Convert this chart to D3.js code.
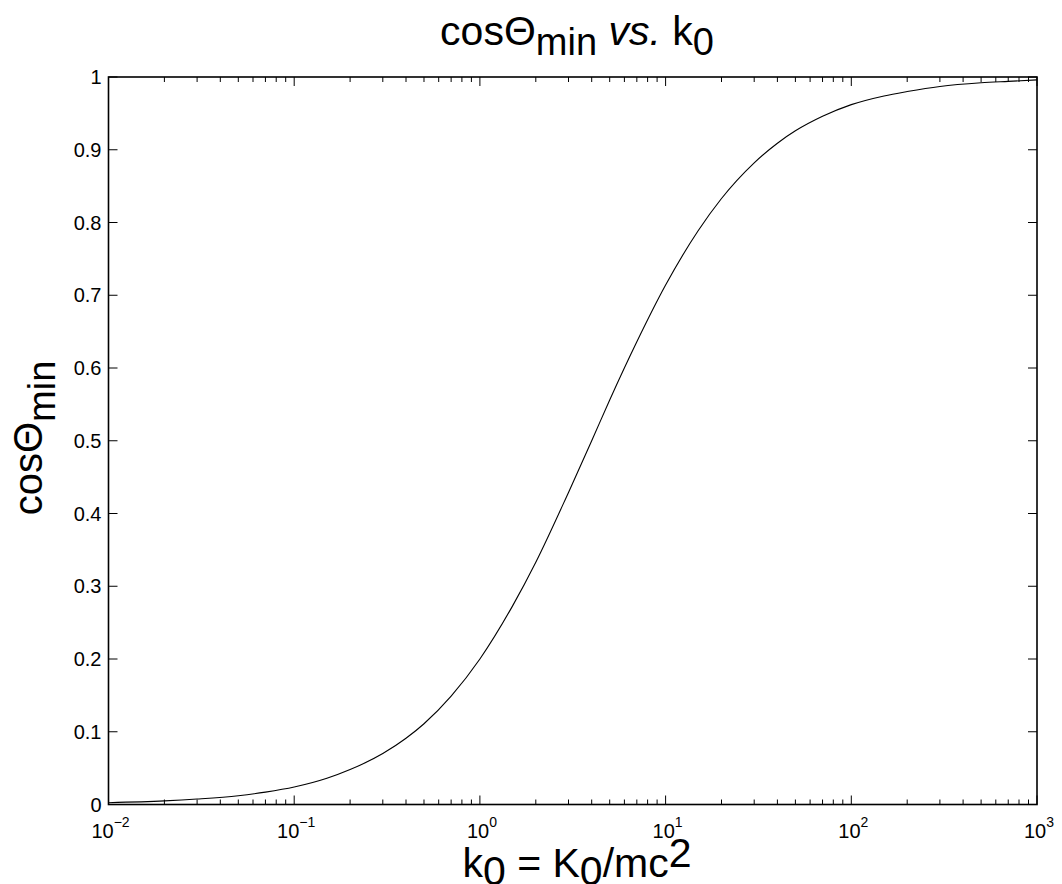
<!DOCTYPE html>
<html><head><meta charset="utf-8">
<script src="https://cdn.jsdelivr.net/npm/d3@7"></script>
<style>
html,body{margin:0;padding:0;background:#fff;}
text{font-family:"Liberation Sans",Arial,Helvetica,sans-serif;fill:#000;}
</style></head>
<body>
<svg id="chart" width="1062" height="884"></svg>
<script>
// Data
const k0 = [0.01,0.02,0.03,0.05,0.07,0.1,0.15,0.2,0.3,0.4,0.5,0.7,1,1.5,2,3,4,5,7,10,15,20,30,40,50,70,100,150,200,300,500,700,1000];
const cosThetaMin = [0.0025,0.005,0.0075,0.012,0.017,0.024,0.036,0.048,0.070,0.091,0.111,0.149,0.200,0.273,0.333,0.429,0.500,0.556,0.636,0.714,0.789,0.833,0.882,0.909,0.926,0.946,0.962,0.974,0.980,0.987,0.992,0.994,0.996];
const yTicks = [0,0.1,0.2,0.3,0.4,0.5,0.6,0.7,0.8,0.9,1];
const yTickLabels = ["0","0.1","0.2","0.3","0.4","0.5","0.6","0.7","0.8","0.9","1"];
const xDecades = [-2,-1,0,1,2,3];

const svg = d3.select("#chart");
const L = 108.5, R = 1037, T = 77, B = 804.5;
const x = d3.scaleLog().domain([0.01,1000]).range([L,R]);
const y = d3.scaleLinear().domain([0,1]).range([B,T]);

const majorLen = 9, minorLen = 5;
const g = svg.append("g");

// minor ticks (x)
const minors = [];
for (let d = -2; d < 3; d++) for (let m = 2; m <= 9; m++) minors.push(m*Math.pow(10,d));
const majors = xDecades.map(e => Math.pow(10,e));

g.selectAll(".xminB").data(minors).enter().append("line")
  .attr("x1",d=>x(d)).attr("x2",d=>x(d)).attr("y1",B).attr("y2",B-minorLen)
  .attr("stroke","#000").attr("stroke-width",1);
g.selectAll(".xminT").data(minors).enter().append("line")
  .attr("x1",d=>x(d)).attr("x2",d=>x(d)).attr("y1",T).attr("y2",T+minorLen)
  .attr("stroke","#000").attr("stroke-width",1);
g.selectAll(".xmajB").data(majors).enter().append("line")
  .attr("x1",d=>x(d)).attr("x2",d=>x(d)).attr("y1",B).attr("y2",B-majorLen)
  .attr("stroke","#000").attr("stroke-width",1);
g.selectAll(".xmajT").data(majors).enter().append("line")
  .attr("x1",d=>x(d)).attr("x2",d=>x(d)).attr("y1",T).attr("y2",T+majorLen)
  .attr("stroke","#000").attr("stroke-width",1);
g.selectAll(".ymajL").data(yTicks).enter().append("line")
  .attr("x1",L).attr("x2",L+majorLen).attr("y1",d=>y(d)).attr("y2",d=>y(d))
  .attr("stroke","#000").attr("stroke-width",1);
g.selectAll(".ymajR").data(yTicks).enter().append("line")
  .attr("x1",R).attr("x2",R-majorLen).attr("y1",d=>y(d)).attr("y2",d=>y(d))
  .attr("stroke","#000").attr("stroke-width",1);

// curve
const line = d3.line().x((d,i)=>x(k0[i])).y(d=>y(d)).curve(d3.curveMonotoneX);
svg.append("path").datum(cosThetaMin).attr("d",line)
  .attr("fill","none").attr("stroke","#000").attr("stroke-width",1.1);

// box
svg.append("rect").attr("x",L).attr("y",T).attr("width",R-L).attr("height",B-T)
  .attr("fill","none").attr("stroke","#000").attr("stroke-width",1.6);

// y tick labels
svg.selectAll(".ylab").data(yTicks).enter().append("text")
  .attr("x",L-7).attr("y",d=>y(d)).attr("dy","0.36em")
  .attr("text-anchor","end").attr("font-size",20)
  .text((d,i)=>yTickLabels[i]);

// x tick labels
const xl = svg.selectAll(".xlab").data(xDecades).enter().append("text")
  .attr("x",d=>x(Math.pow(10,d))+2).attr("y",838)
  .attr("text-anchor","middle").attr("font-size",20);
xl.append("tspan").text("10");
xl.append("tspan").attr("font-size",14).attr("dy",-11).text(d=>d<0?"\u2212"+Math.abs(d):String(d));

// title
const cx = 577;
const title = svg.append("text").attr("x",cx).attr("y",45).attr("text-anchor","middle").attr("font-size",41);
title.append("tspan").text("cosΘ");
title.append("tspan").attr("font-size",38).attr("dy",10).text("min");
title.append("tspan").attr("dy",-10).text(" ");
title.append("tspan").attr("font-style","italic").text("vs.");
title.append("tspan").text(" k");
title.append("tspan").attr("font-size",38).attr("dy",10).text("0");

// x label
const xlab = svg.append("text").attr("x",cx).attr("y",877).attr("text-anchor","middle").attr("font-size",41);
xlab.append("tspan").text("k");
xlab.append("tspan").attr("dy",8).text("0");
xlab.append("tspan").attr("dy",-8).text(" = K");
xlab.append("tspan").attr("dy",8).text("0");
xlab.append("tspan").attr("dy",-8).text("/mc");
xlab.append("tspan").attr("dy",-10).text("2");

// y label
const ylab = svg.append("text").attr("transform",`translate(42,438) rotate(-90)`)
  .attr("text-anchor","middle").attr("font-size",40);
ylab.append("tspan").text("cosΘ");
ylab.append("tspan").attr("font-size",38).attr("dy",13).text("min");
</script>
</body></html>
